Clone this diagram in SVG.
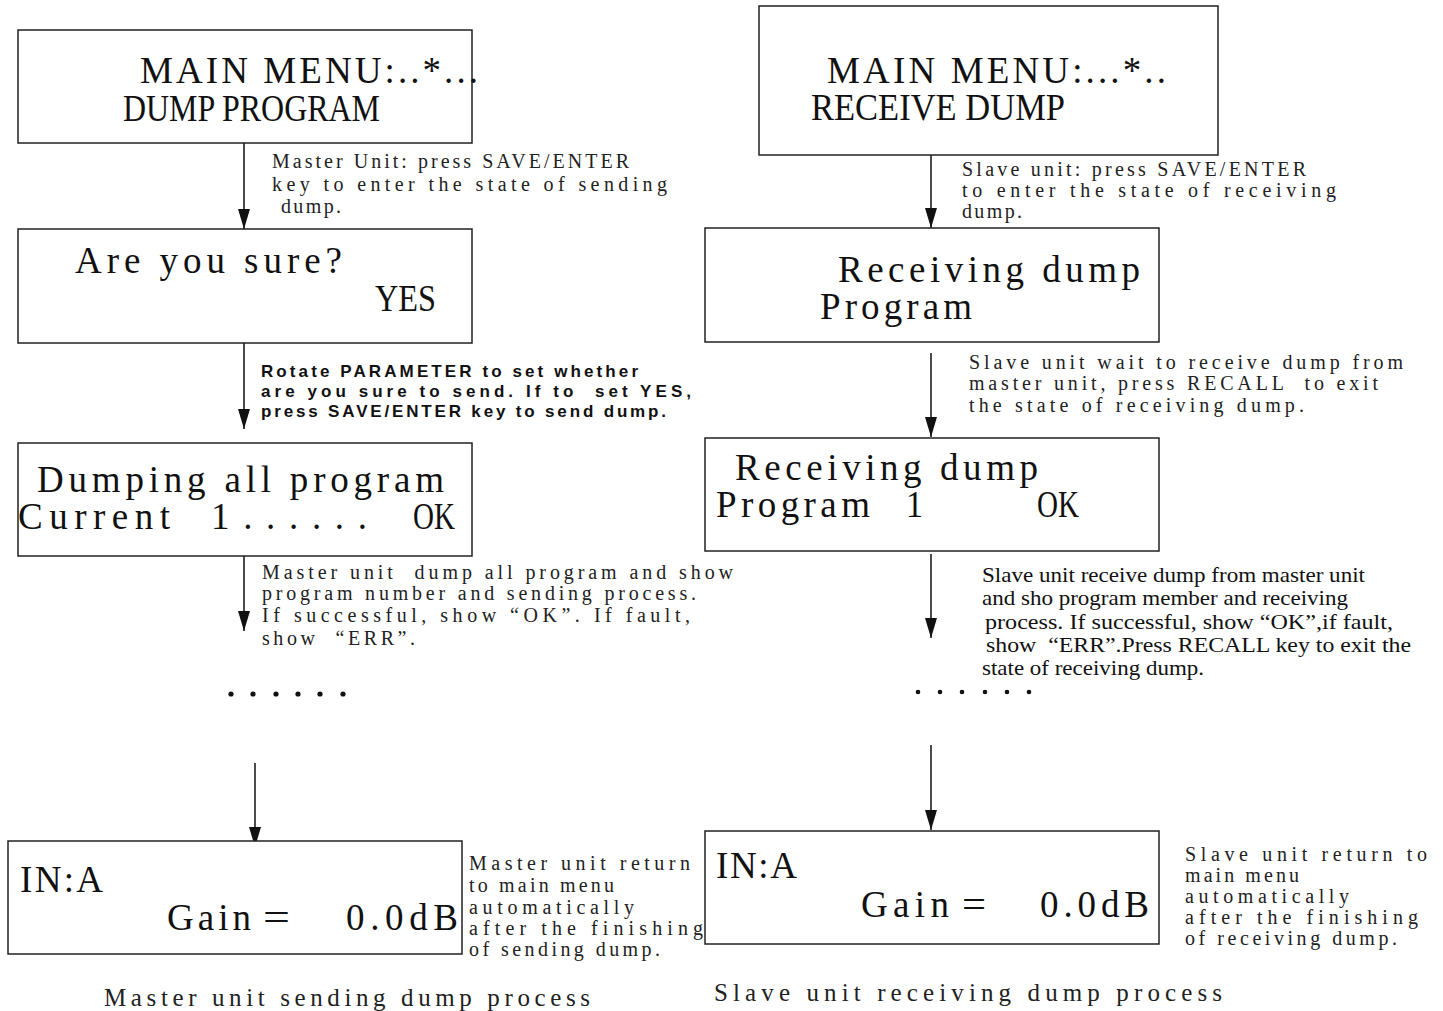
<svg xmlns="http://www.w3.org/2000/svg" width="1443" height="1011" viewBox="0 0 1443 1011">
<style>
.box{fill:#fff;stroke:#222;stroke-width:1.5}
.bt{font-family:"Liberation Serif","DejaVu Serif",serif;font-size:37px;fill:#111}
.lb{font-family:"Liberation Serif","DejaVu Serif",serif;font-size:20px;fill:#222}
.lbb{font-family:"Liberation Sans","DejaVu Sans",sans-serif;font-size:17px;font-weight:bold;fill:#111}
.lt{font-family:"Liberation Serif","DejaVu Serif",serif;font-size:21px;fill:#111}
.cap{font-family:"Liberation Serif","DejaVu Serif",serif;font-size:25px;fill:#222}
.con{stroke:#111;stroke-width:1.5;fill:none;marker-end:url(#ah)}
</style>
<defs>
<marker id="ah" viewBox="0 0 20 12" refX="20" refY="6" markerWidth="20" markerHeight="12" markerUnits="userSpaceOnUse" orient="auto">
<path d="M0,0 L20,6 L0,12 z" fill="#111"/>
</marker>
</defs>
<rect width="1443" height="1011" fill="#fff"/>

<g id="connectors">
<line class="con" x1="244" y1="143" x2="244" y2="229"/>
<line class="con" x1="244" y1="343" x2="244" y2="429"/>
<line class="con" x1="244" y1="547" x2="244" y2="631"/>
<line class="con" x1="255" y1="763" x2="255" y2="847"/>
<line class="con" x1="931" y1="142" x2="931" y2="228"/>
<line class="con" x1="931" y1="353" x2="931" y2="437"/>
<line class="con" x1="931" y1="554" x2="931" y2="638"/>
<line class="con" x1="931" y1="745" x2="931" y2="830"/>
</g>

<g id="n-main-menu-dump">
<rect class="box" x="18" y="30" width="454" height="113"/>
<text class="bt" x="140" y="83" textLength="338" lengthAdjust="spacing">MAIN MENU:..*...</text>
<text class="bt" x="123" y="121" textLength="257" lengthAdjust="spacingAndGlyphs">DUMP PROGRAM</text>
</g>
<g id="l-master-enter">
<text class="lb" x="272" y="168" textLength="357" lengthAdjust="spacing">Master Unit: press SAVE/ENTER</text>
<text class="lb" x="272" y="191" textLength="395" lengthAdjust="spacing">key to enter the state of sending</text>
<text class="lb" x="281" y="213" textLength="60" lengthAdjust="spacing">dump.</text>
</g>

<g id="n-are-you-sure">
<rect class="box" x="18" y="229" width="454" height="114"/>
<text class="bt" x="75" y="273" textLength="267" lengthAdjust="spacing">Are you sure?</text>
<text class="bt" x="375" y="311" textLength="61" lengthAdjust="spacingAndGlyphs">YES</text>
</g>
<g id="l-rotate">
<text class="lbb" x="261" y="377" textLength="377" lengthAdjust="spacing">Rotate PARAMETER to set whether</text>
<text class="lbb" x="261" y="397" textLength="430" lengthAdjust="spacing" xml:space="preserve">are you sure to send. If to  set YES,</text>
<text class="lbb" x="261" y="417" textLength="405" lengthAdjust="spacing">press SAVE/ENTER key to send dump.</text>
</g>

<g id="n-dumping">
<rect class="box" x="18" y="443" width="454" height="113"/>
<text class="bt" x="37" y="492" textLength="407" lengthAdjust="spacing">Dumping all program</text>
<text class="bt" x="18" y="529" textLength="152" lengthAdjust="spacing">Current</text>
<text class="bt" x="211" y="529" textLength="156" lengthAdjust="spacing">1......</text>
<text class="bt" x="413" y="529" textLength="42" lengthAdjust="spacingAndGlyphs">OK</text>
</g>
<g id="l-master-dump">
<text class="lb" x="262" y="579" textLength="471" lengthAdjust="spacing" xml:space="preserve">Master unit  dump all program and show</text>
<text class="lb" x="262" y="600" textLength="434" lengthAdjust="spacing">program number and sending process.</text>
<text class="lb" x="262" y="622" textLength="428" lengthAdjust="spacing">If successful, show “OK”. If fault,</text>
<text class="lb" x="262" y="645" textLength="153" lengthAdjust="spacing" xml:space="preserve">show  “ERR”.</text>
</g>
<g id="dots-left" fill="#111">
<circle cx="231" cy="694" r="2.6"/><circle cx="253" cy="694" r="2.6"/><circle cx="276" cy="694" r="2.6"/><circle cx="298" cy="694" r="2.6"/><circle cx="320" cy="694" r="2.6"/><circle cx="343" cy="694" r="2.6"/>
</g>

<g id="n-in-a-master">
<rect class="box" x="8" y="841" width="454" height="113"/>
<text class="bt" x="20" y="892" textLength="83" lengthAdjust="spacing">IN:A</text>
<text class="bt" x="167" y="930" textLength="84" lengthAdjust="spacing">Gain</text>
<text class="bt" x="263" y="930" textLength="27" lengthAdjust="spacingAndGlyphs">=</text>
<text class="bt" x="346" y="930" textLength="112" lengthAdjust="spacing">0.0dB</text>
</g>
<g id="l-master-return">
<text class="lb" x="469" y="870" textLength="221" lengthAdjust="spacing">Master unit return</text>
<text class="lb" x="469" y="892" textLength="145" lengthAdjust="spacing">to main menu</text>
<text class="lb" x="469" y="914" textLength="165" lengthAdjust="spacing">automatically</text>
<text class="lb" x="469" y="935" textLength="234" lengthAdjust="spacing">after the finishing</text>
<text class="lb" x="469" y="956" textLength="191" lengthAdjust="spacing">of sending dump.</text>
</g>
<text class="cap" x="104" y="1006" textLength="486" lengthAdjust="spacing">Master unit sending dump process</text>

<g id="n-main-menu-receive">
<rect class="box" x="759" y="6" width="459" height="149"/>
<text class="bt" x="827" y="83" textLength="339" lengthAdjust="spacing">MAIN MENU:...*..</text>
<text class="bt" x="811" y="120" textLength="254" lengthAdjust="spacingAndGlyphs">RECEIVE DUMP</text>
</g>
<g id="l-slave-enter">
<text class="lb" x="962" y="176" textLength="344" lengthAdjust="spacing">Slave unit: press SAVE/ENTER</text>
<text class="lb" x="962" y="197" textLength="374" lengthAdjust="spacing">to enter the state of receiving</text>
<text class="lb" x="962" y="218" textLength="60" lengthAdjust="spacing">dump.</text>
</g>

<g id="n-receiving-program">
<rect class="box" x="705" y="228" width="454" height="114"/>
<text class="bt" x="838" y="282" textLength="302" lengthAdjust="spacing">Receiving dump</text>
<text class="bt" x="820" y="319" textLength="152" lengthAdjust="spacing">Program</text>
</g>
<g id="l-slave-wait">
<text class="lb" x="969" y="369" textLength="434" lengthAdjust="spacing">Slave unit wait to receive dump from</text>
<text class="lb" x="969" y="390" textLength="409" lengthAdjust="spacing" xml:space="preserve">master unit, press RECALL  to exit</text>
<text class="lb" x="969" y="412" textLength="335" lengthAdjust="spacing">the state of receiving dump.</text>
</g>

<g id="n-receiving-program-1">
<rect class="box" x="705" y="438" width="454" height="113"/>
<text class="bt" x="735" y="480" textLength="303" lengthAdjust="spacing">Receiving dump</text>
<text class="bt" x="716" y="517" textLength="154" lengthAdjust="spacing">Program</text>
<text class="bt" x="906" y="517" textLength="17" lengthAdjust="spacingAndGlyphs">1</text>
<text class="bt" x="1037" y="517" textLength="42" lengthAdjust="spacingAndGlyphs">OK</text>
</g>
<g id="l-slave-receive">
<text class="lt" x="982" y="582" textLength="383" lengthAdjust="spacingAndGlyphs">Slave unit receive dump from master unit</text>
<text class="lt" x="982" y="605" textLength="366" lengthAdjust="spacingAndGlyphs">and sho program member and receiving</text>
<text class="lt" x="985" y="629" textLength="408" lengthAdjust="spacingAndGlyphs">process. If successful, show “OK”,if fault,</text>
<text class="lt" x="986" y="652" textLength="425" lengthAdjust="spacingAndGlyphs" xml:space="preserve">show  “ERR”.Press RECALL key to exit the</text>
<text class="lt" x="982" y="675" textLength="222" lengthAdjust="spacingAndGlyphs">state of receiving dump.</text>
</g>
<g id="dots-right" fill="#111">
<circle cx="918" cy="692" r="2.3"/><circle cx="940" cy="692" r="2.3"/><circle cx="962" cy="692" r="2.3"/><circle cx="985" cy="692" r="2.3"/><circle cx="1007" cy="692" r="2.3"/><circle cx="1029" cy="692" r="2.3"/>
</g>

<g id="n-in-a-slave">
<rect class="box" x="705" y="831" width="454" height="113"/>
<text class="bt" x="716" y="878" textLength="81" lengthAdjust="spacing">IN:A</text>
<text class="bt" x="861" y="917" textLength="88" lengthAdjust="spacing">Gain</text>
<text class="bt" x="962" y="917" textLength="24" lengthAdjust="spacingAndGlyphs">=</text>
<text class="bt" x="1040" y="917" textLength="109" lengthAdjust="spacing">0.0dB</text>
</g>
<g id="l-slave-return">
<text class="lb" x="1185" y="861" textLength="242" lengthAdjust="spacing">Slave unit return to</text>
<text class="lb" x="1185" y="882" textLength="114" lengthAdjust="spacing">main menu</text>
<text class="lb" x="1185" y="903" textLength="164" lengthAdjust="spacing">automatically</text>
<text class="lb" x="1185" y="924" textLength="233" lengthAdjust="spacing">after the finishing</text>
<text class="lb" x="1185" y="945" textLength="212" lengthAdjust="spacing">of receiving dump.</text>
</g>
<text class="cap" x="714" y="1001" textLength="508" lengthAdjust="spacing">Slave unit receiving dump process</text>
</svg>
